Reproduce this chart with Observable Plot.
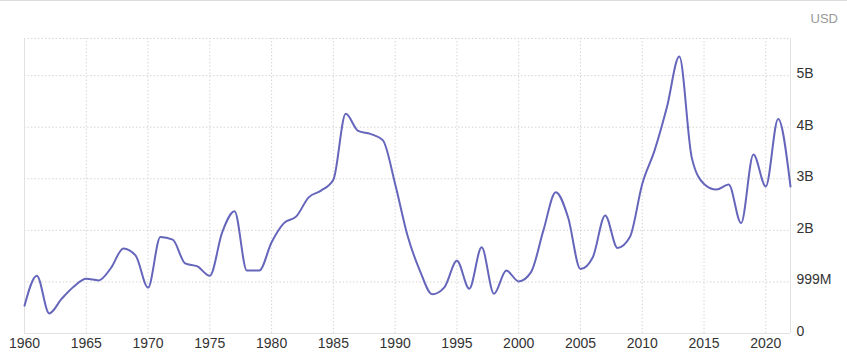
<!DOCTYPE html>
<html>
<head>
<meta charset="utf-8">
<script src="https://cdn.jsdelivr.net/npm/d3@7"></script>
<script src="https://cdn.jsdelivr.net/npm/@observablehq/plot@0.6"></script>
<style>
  html, body { margin: 0; padding: 0; background: #fff; }
  body { width: 847px; height: 361px; overflow: hidden; position: relative; font-family: "Liberation Sans", Arial, sans-serif; }
  #topline { position: absolute; left: 0; top: 0; width: 847px; height: 1px; background: #dcdcdc; }
  #unit { position: absolute; right: 9px; top: 11px; font-size: 13px; color: #999; }
  #chart { position: absolute; left: 0; top: 0; }
</style>
</head>
<body>
<div id="topline"></div>
<div id="chart"></div>
<div id="unit">USD</div>
<script>
const years = d3.range(1960, 2023);
// values in units of ~0.999 billion USD (one gridline step)
const values = [
  0.54, 1.12, 0.39, 0.67, 0.91, 1.06, 1.03, 1.27, 1.65, 1.51,
  0.89, 1.87, 1.82, 1.36, 1.30, 1.12, 1.96, 2.37, 1.22, 1.22,
  1.77, 2.14, 2.27, 2.64, 2.77, 2.98, 4.26, 3.93, 3.87, 3.75,
  2.90, 1.90, 1.22, 0.76, 0.90, 1.41, 0.87, 1.67, 0.77, 1.22,
  1.01, 1.19, 2.00, 2.74, 2.25, 1.25, 1.48, 2.29, 1.66, 1.87,
  2.90, 3.55, 4.39, 5.37, 3.42, 2.90, 2.79, 2.89, 2.14, 3.47,
  2.85, 4.16, 2.85
];
const yTicks = [0, 1, 2, 3, 4, 5];
const yTickLabels = ["0", "999M", "2B", "3B", "4B", "5B"];
const xTicks = d3.range(1960, 2021, 5);

const data = years.map((y, i) => ({year: y, value: values[i]}));
const yTop = 5.72;

const chart = Plot.plot({
  width: 847,
  height: 361,
  marginTop: 38,
  marginBottom: 28,
  marginLeft: 24,
  marginRight: 57,
  style: {fontFamily: "'Liberation Sans', Arial, sans-serif", fontSize: "14px", color: "#333", background: "transparent"},
  x: {domain: [1960, 2022], label: null},
  y: {domain: [0, yTop], label: null},
  marks: [
    Plot.ruleX(xTicks, {stroke: "#d6d6d6", strokeDasharray: "1.5,2", y1: 0, y2: yTop}),
    Plot.ruleY([...yTicks.slice(1), yTop], {stroke: "#d6d6d6", strokeDasharray: "1.5,2", x1: 1960, x2: 2022}),
    Plot.ruleY([0], {stroke: "#e2e2e2", x1: 1960, x2: 2022}),
    Plot.ruleX([1960, 2022], {stroke: "#e2e2e2", y1: 0, y2: yTop}),
    Plot.axisX({ticks: xTicks, tickFormat: d => String(d), tickSize: 0, tickPadding: 5, fontSize: 14, fill: "#333"}),
    Plot.axisY({anchor: "right", ticks: yTicks, tickFormat: (d) => yTickLabels[yTicks.indexOf(d)], tickSize: 0, tickPadding: 6, dy: -2, fontSize: 14, fill: "#333"}),
    Plot.line(data, {x: "year", y: "value", curve: "monotone-x", stroke: "#6566bb", strokeWidth: 2})
  ]
});
document.getElementById("chart").appendChild(chart);
</script>
</body>
</html>
